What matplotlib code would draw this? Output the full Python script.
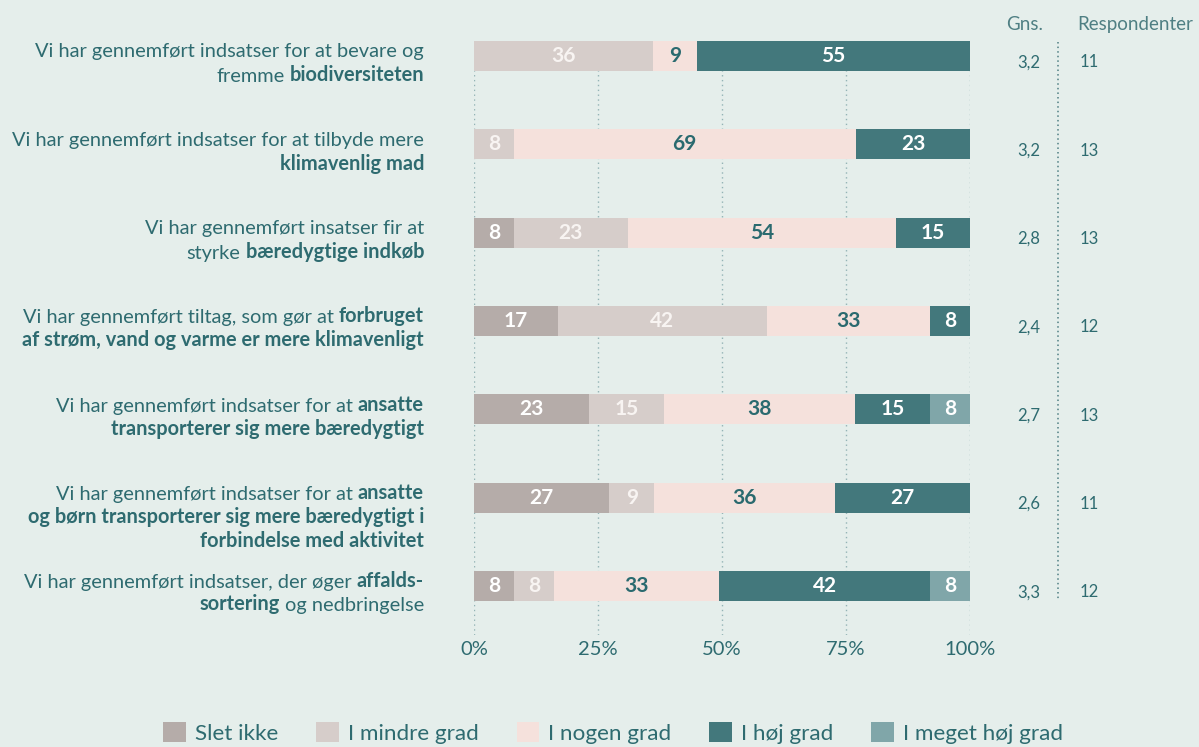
import matplotlib
matplotlib.use("Agg")
import matplotlib.pyplot as plt
import numpy as np
from matplotlib.patches import Patch

plt.rcParams['font.family'] = ['Lato', 'DejaVu Sans']

# ---- data ----
# each label: list of lines, each line: list of (text, bold)
labels = [
    [[("Vi har gennemført indsatser for at bevare og", False)],
     [("fremme", False), ("biodiversiteten", True)]],
    [[("Vi har gennemført indsatser for at tilbyde mere", False)],
     [("klimavenlig mad", True)]],
    [[("Vi har gennemført insatser fir at", False)],
     [("styrke", False), ("bæredygtige indkøb", True)]],
    [[("Vi har gennemført tiltag, som gør at", False), ("forbruget", True)],
     [("af strøm, vand og varme er mere klimavenligt", True)]],
    [[("Vi har gennemført indsatser for at", False), ("ansatte", True)],
     [("transporterer sig mere bæredygtigt", True)]],
    [[("Vi har gennemført indsatser for at", False), ("ansatte", True)],
     [("og børn transporterer sig mere bæredygtigt i", True)],
     [("forbindelse med aktivitet", True)]],
    [[("Vi har gennemført indsatser, der øger", False), ("affalds-", True)],
     [("sortering", True), ("og nedbringelse", False)]],
]
slet_ikke = [0, 0, 8, 17, 23, 27, 8]
mindre_grad = [36, 8, 23, 42, 15, 9, 8]
nogen_grad = [9, 69, 54, 33, 38, 36, 33]
hoej_grad = [55, 23, 15, 8, 15, 27, 42]
meget_hoej_grad = [0, 0, 0, 0, 8, 0, 8]
gns = ["3,2", "3,2", "2,8", "2,4", "2,7", "2,6", "3,3"]
respondenter = ["11", "13", "13", "12", "13", "11", "12"]
series_names = ["Slet ikke", "I mindre grad", "I nogen grad", "I høj grad", "I meget høj grad"]
xticks = [0, 25, 50, 75, 100]
xtick_labels = ["0%", "25%", "50%", "75%", "100%"]

# ---- style ----
BG = "#e5eeeb"
TEAL = "#2e6b70"
colors = ["#b5aca9", "#d6cdca", "#f5e1dc", "#43787c", "#80a6a9"]
value_colors = ["#ffffff", "#f8f4f2", "#2a6a6f", "#ffffff", "#ffffff"]

series = np.array([slet_ikke, mindre_grad, nogen_grad, hoej_grad, meget_hoej_grad], dtype=float)
totals = series.sum(axis=0)
widths = series / totals * 100

W, H = 1199, 747
fig = plt.figure(figsize=(W / 100, H / 100), dpi=100, facecolor=BG)
ax = fig.add_axes([474 / W, 1 - 635 / H, (970 - 474) / W, (635 - 41) / H])
ax.set_facecolor(BG)

n = len(labels)
y = np.arange(n)
lefts = np.zeros(n)
for k in range(len(series_names)):
    ax.barh(y, widths[k], left=lefts, height=0.34, color=colors[k], zorder=2)
    for i in range(n):
        if series[k, i] > 0:
            ax.text(lefts[i] + widths[k, i] / 2, y[i], f"{int(series[k, i])}",
                    ha="center", va="center", fontsize=15, fontweight="bold",
                    color=value_colors[k], zorder=3)
    lefts += widths[k]

ax.set_xlim(0, 100)
ax.set_ylim(6.555, -0.17)
ax.set_xticks(xticks, xtick_labels)
ax.tick_params(axis="x", length=0, pad=4, labelsize=14.5, labelcolor=TEAL)
ax.set_yticks([])
for s in ax.spines.values():
    s.set_visible(False)
ax.xaxis.grid(True, linestyle=(0, (1, 2.5)), color="#93b3b5", linewidth=1.0, zorder=0)
ax.set_axisbelow(True)

trans = ax.get_yaxis_transform()  # x: axes fraction, y: data

# row labels with mixed weights
FS = 14.4
x_right = (424 - 474) / 496
for i, lines in enumerate(labels):
    for li, segs in enumerate(lines):
        dy = -1.0 - li * 17.3  # points
        prev = ax.annotate(segs[-1][0], xy=(x_right, y[i]), xycoords=trans,
                           xytext=(0, dy), textcoords="offset points",
                           ha="right", va="baseline", fontsize=FS, color=TEAL,
                           fontweight="bold" if segs[-1][1] else "normal",
                           annotation_clip=False)
        for text, bold in reversed(segs[:-1]):
            prev = ax.annotate(text, xy=(0, 0), xycoords=prev,
                               xytext=(-3.6, 0), textcoords="offset points",
                               ha="right", va="bottom", fontsize=FS, color=TEAL,
                               fontweight="bold" if bold else "normal",
                               annotation_clip=False)

# Gns / Respondenter columns
x_gns = (1040 - 474) / 496
x_resp = (1080 - 474) / 496
for i in range(n):
    ax.text(x_gns, y[i] + 0.07, gns[i], transform=trans, ha="right", va="center",
            fontsize=12, color=TEAL, clip_on=False)
    ax.text(x_resp, y[i] + 0.07, respondenter[i], transform=trans, ha="left", va="center",
            fontsize=12, color=TEAL, clip_on=False)
x_sep = (1058 - 474) / 496
ax.plot([x_sep, x_sep], [-0.158, 6.16], transform=trans, clip_on=False,
        linestyle=(0, (1, 2)), color="#4f7f83", linewidth=1.1)
ax.text((1025 - 474) / 496, -0.36, "Gns.", transform=trans, ha="center", va="center",
        fontsize=13.5, color="#4f7f83", clip_on=False)
ax.text((1077 - 474) / 496, -0.36, "Respondenter", transform=trans, ha="left", va="center",
        fontsize=13.5, color="#4f7f83", clip_on=False)

# legend
handles = [Patch(facecolor=c, edgecolor="none") for c in colors]
leg = fig.legend(handles, series_names, loc="center", bbox_to_anchor=(613 / W, 1 - 733 / H),
                 ncol=5, frameon=False, fontsize=16.2, handlelength=1.0, handleheight=1.0,
                 handletextpad=0.4, columnspacing=1.7, labelcolor=TEAL)

fig.savefig("out.png", dpi=100, facecolor=BG)
